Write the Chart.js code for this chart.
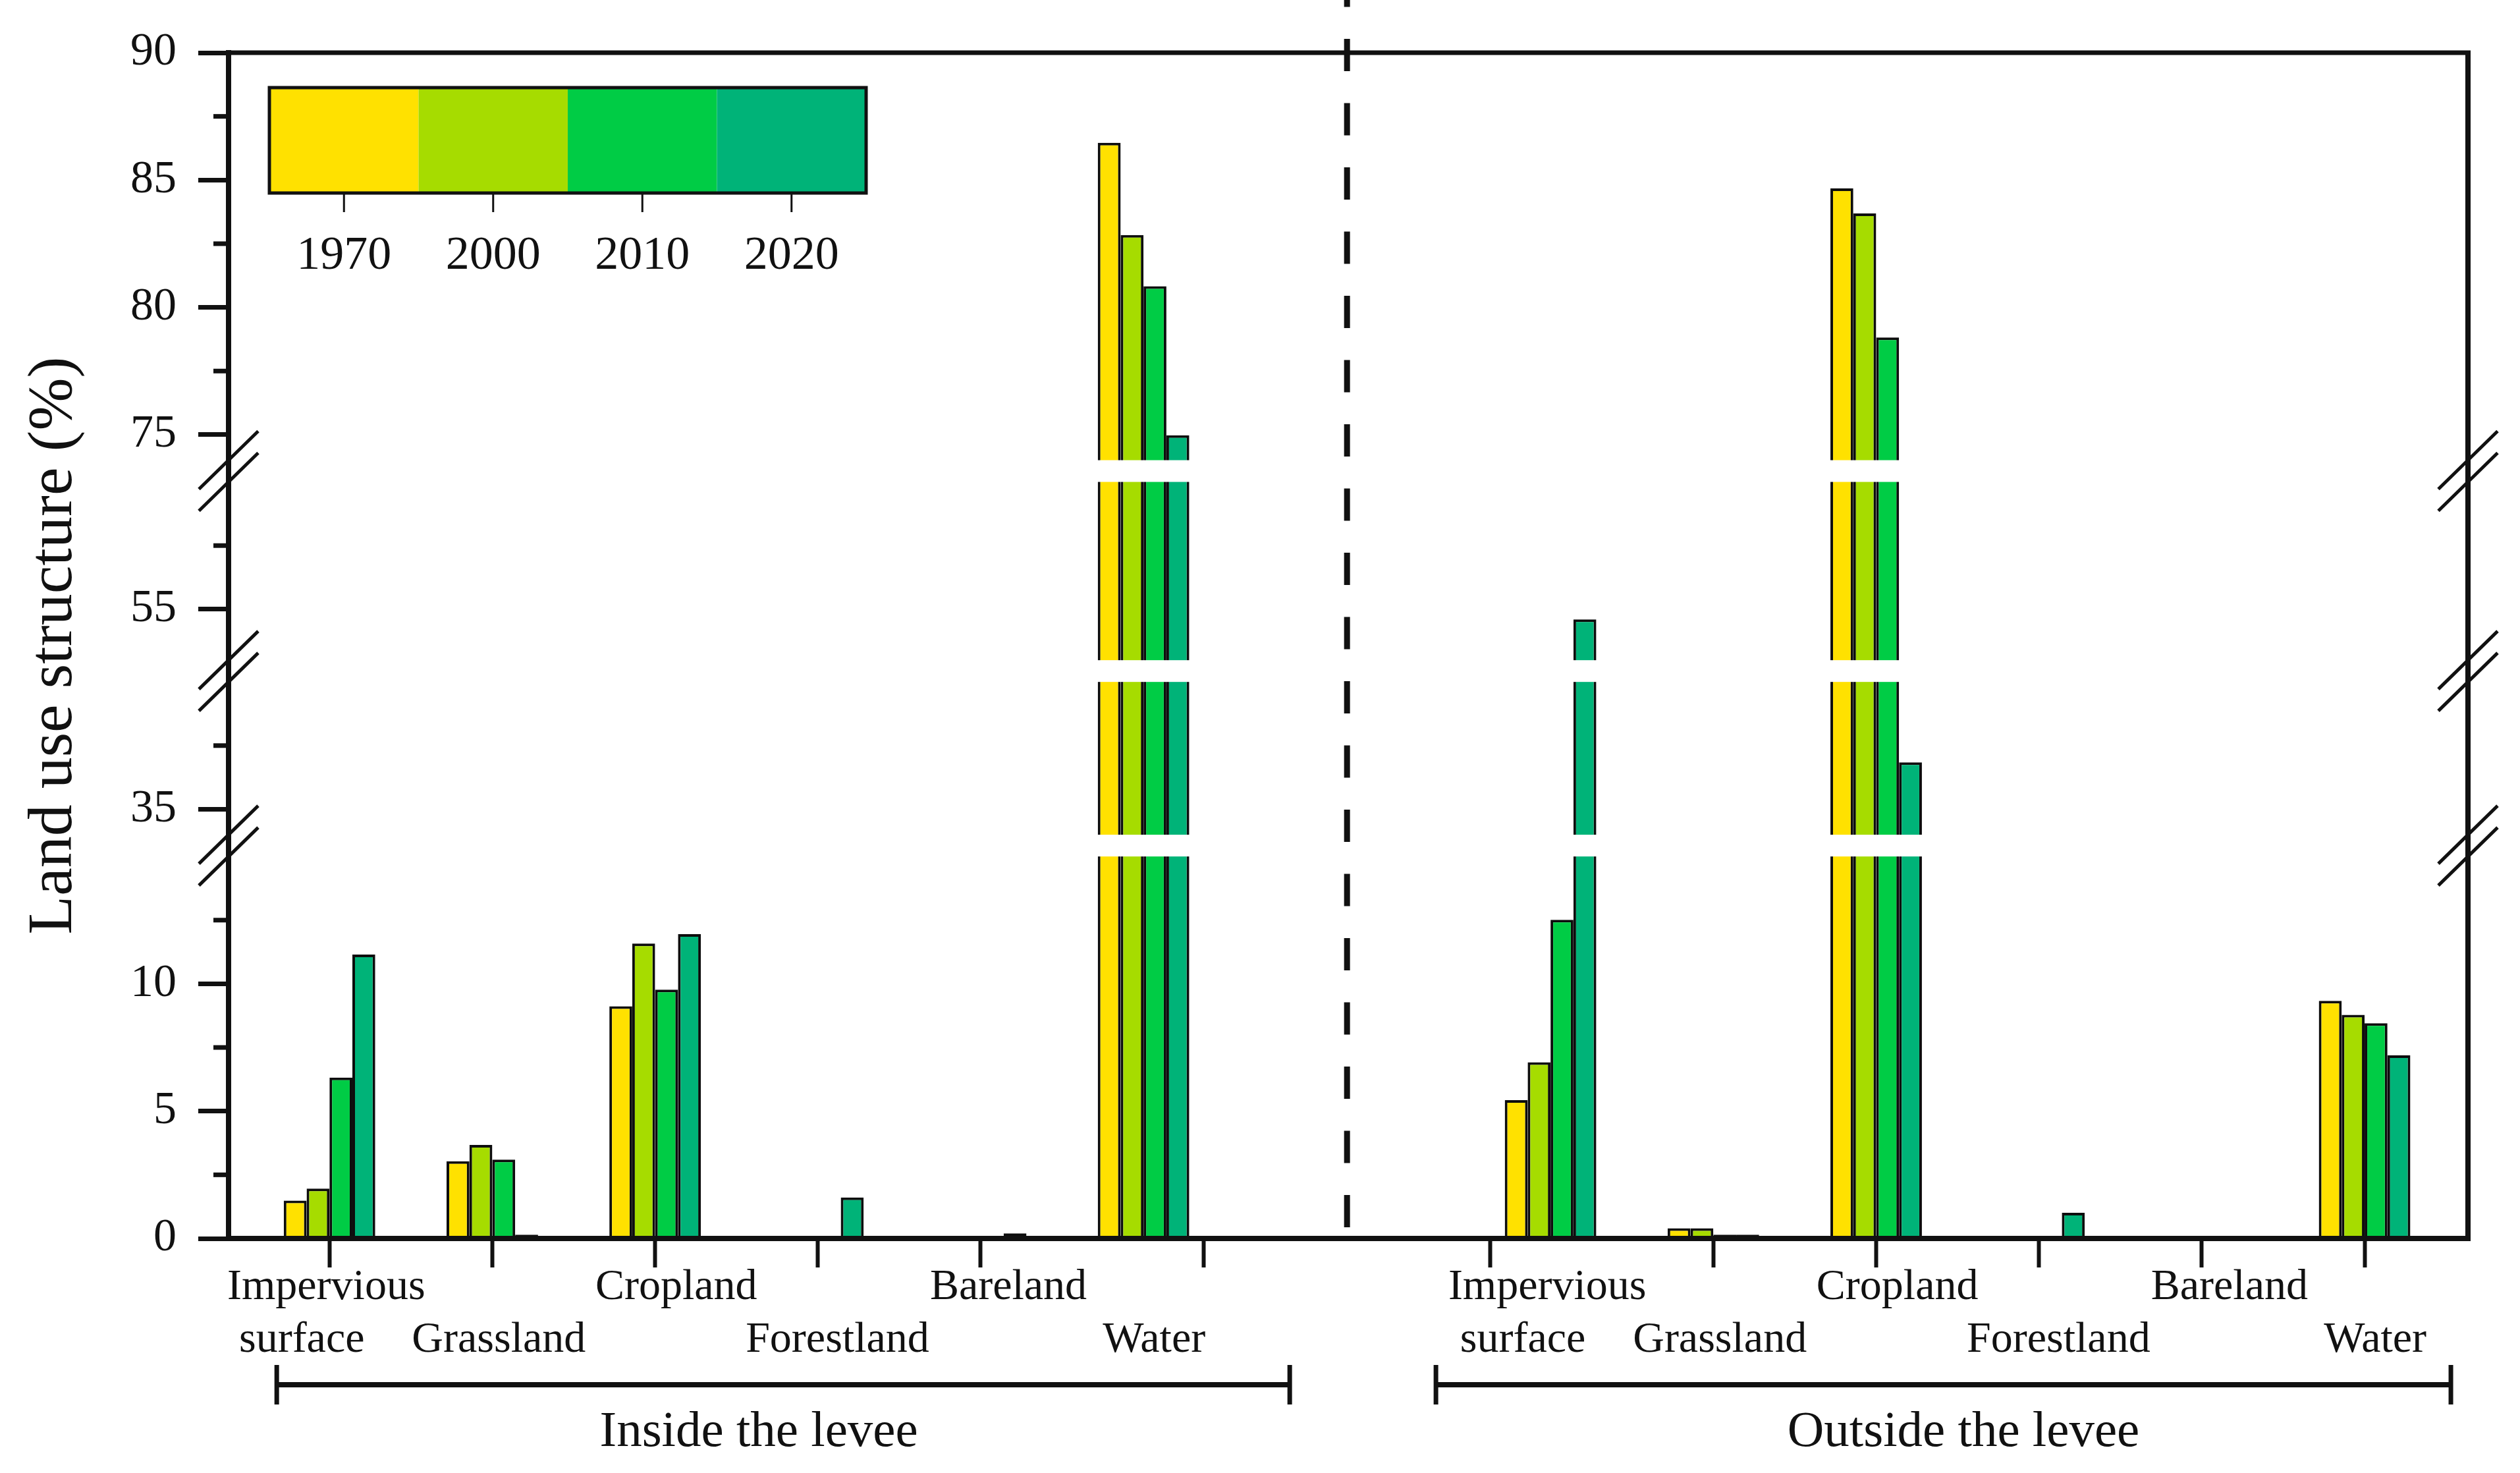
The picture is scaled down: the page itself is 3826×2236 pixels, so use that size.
<!DOCTYPE html>
<html>
<head>
<meta charset="utf-8">
<script src="https://cdn.jsdelivr.net/npm/chart.js@4.4.1/dist/chart.umd.min.js"></script>
<style>
  html, body { margin: 0; padding: 0; background: #fff; }
  #wrap { width: 3826px; height: 2236px; position: relative; }
</style>
</head>
<body>
<div id="wrap"><canvas id="c"></canvas></div>
<script>
/* 堤内外土地利用结构 — 断轴柱状图 */

// 数据
const years = ['1970', '2000', '2010', '2020'];
const landTypes = [['Impervious', 'surface'], ['Grassland'], ['Cropland'], ['Forestland'], ['Bareland'], ['Water']];
const sides = ['Inside the levee', 'Outside the levee'];

// 每行 12 个值：前 6 个堤内，后 6 个堤外（%）
const val1970 = [1.49, 3.03, 9.12, 0, 0, 86.46, 5.43, 0.40, 84.67, 0, 0, 9.33];
const val2000 = [1.96, 3.67, 11.58, 0, 0, 82.84, 6.92, 0.40, 83.69, 0.03, 0, 8.78];
const val2010 = [6.32, 3.10, 9.77, 0, 0.05, 80.83, 12.51, 0.15, 78.82, 0, 0, 8.45];
const val2020 = [11.15, 0.15, 11.95, 1.61, 0.20, 74.98, 54.6, 0.15, 36.84, 1.01, 0.07, 7.19];

const yTicks = [0, 5, 10, 35, 55, 75, 80, 85, 90];
const yMinorTicks = [2.5, 7.5, 12.5, 37.5, 57.5, 77.5, 82.5, 87.5];
const ySegments = [[0, 15], [34, 40], [53, 60], [74, 90]];

// 样式与布局
const colors = ['#FFE100', '#A6DC00', '#00CC45', '#00B378'];
const INK = '#111';
const FONT = "'Liberation Serif', 'Times New Roman', serif";
const GAP = 33;                 // 断轴间隙 px
const sideStart = [1, 8.5];     // 每侧第一组的 x 位置
const xMin = 0.38, xMax = 14.135;
const xTickPos = [1, 2, 3, 4, 5, 6.37, 8.13, 9.5, 10.5, 11.5, 12.5, 13.5];
const divider = 7.25;
const labelShift = [[-0.02, -0.17], [0.04], [0.13], [0.12], [0.17], [0.065]];
const labelRow = [0, 1, 0, 1, 0, 1];
const brackets = [[0.676, 6.898, 3.637], [7.796, 14.03, 11.036]];

Chart.defaults.font.family = FONT;
Chart.defaults.color = INK;

// 分段 y 轴
class BrokenScale extends Chart.LinearScale {
  _unit() {
    const units = ySegments.reduce((s, g) => s + g[1] - g[0], 0);
    return (this.bottom - this.top - GAP * (ySegments.length - 1)) / units;
  }
  getPixelForValue(value) {
    if (value === null || value === undefined || isNaN(value)) return NaN;
    const k = this._unit();
    let y = this.bottom;
    for (let i = 0; i < ySegments.length; i++) {
      const [a, b] = ySegments[i];
      if (value <= b || i === ySegments.length - 1) return y - (Math.max(value, a) - a) * k;
      y -= (b - a) * k + GAP;
    }
  }
  getValueForPixel(pixel) {
    const k = this._unit();
    let y = this.bottom;
    for (let i = 0; i < ySegments.length; i++) {
      const [a, b] = ySegments[i];
      const top = y - (b - a) * k;
      if (pixel >= top || i === ySegments.length - 1) return a + (y - pixel) / k;
      y = top - GAP;
    }
  }
}
BrokenScale.id = 'broken';
Chart.register(BrokenScale);

const groupX = (side, i) => sideStart[side] + i;
function toPoints(vals) {
  return vals.map((v, j) => ({ x: groupX(Math.floor(j / 6), j % 6), y: v }));
}
const series = [val1970, val2000, val2010, val2020];

function line(ctx, x1, y1, x2, y2) {
  ctx.beginPath();
  ctx.moveTo(x1, y1);
  ctx.lineTo(x2, y2);
  ctx.stroke();
}

const decor = {
  id: 'decor',
  afterDatasetsDraw(chart) {
    // 断轴白带
    const { ctx, chartArea: ca, scales: { y } } = chart;
    ctx.save();
    ctx.fillStyle = '#fff';
    for (let i = 0; i < ySegments.length - 1; i++) {
      const y0 = y.getPixelForValue(ySegments[i][1]);
      const y1 = y.getPixelForValue(ySegments[i + 1][0]);
      ctx.fillRect(ca.left + 6, y1, ca.width - 12, y0 - y1);
    }
    ctx.restore();
  },
  afterDraw(chart) {
    const { ctx, chartArea: ca, scales: { x, y } } = chart;
    ctx.save();
    ctx.strokeStyle = INK;
    ctx.lineCap = 'butt';

    // 上框线、右轴
    ctx.lineWidth = 7;
    line(ctx, ca.left, ca.top, ca.right + 4, ca.top);
    ctx.lineWidth = 8;
    line(ctx, ca.right, ca.top - 3, ca.right, ca.bottom + 4);

    // 次刻度
    ctx.lineWidth = 7;
    yMinorTicks.forEach(v => {
      const py = y.getPixelForValue(v);
      line(ctx, ca.left - 23, py, ca.left, py);
    });

    // 断轴符号
    ctx.lineWidth = 5;
    for (let i = 0; i < ySegments.length - 1; i++) {
      const edges = [y.getPixelForValue(ySegments[i + 1][0]), y.getPixelForValue(ySegments[i][1])];
      [ca.left, ca.right].forEach(ax => {
        edges.forEach(py => line(ctx, ax - 45, py + 44, ax + 45, py - 44));
      });
    }

    // 堤内外分隔虚线
    const dx = x.getPixelForValue(divider);
    ctx.lineWidth = 9;
    ctx.setLineDash([49, 48.5]);
    ctx.lineDashOffset = 38.5;
    line(ctx, dx, 0, dx, ca.bottom);
    ctx.setLineDash([]);

    // 图例（色带）
    const lx = ca.left + 62, ly = ca.top + 53, lw = 906, lh = 160;
    const bw = lw / years.length;
    years.forEach((yr, i) => {
      ctx.fillStyle = colors[i];
      ctx.fillRect(lx + i * bw, ly, bw, lh);
    });
    ctx.lineWidth = 5;
    ctx.strokeRect(lx, ly, lw, lh);
    ctx.lineWidth = 3;
    ctx.fillStyle = INK;
    ctx.font = '72px ' + FONT;
    ctx.textAlign = 'center';
    ctx.textBaseline = 'alphabetic';
    years.forEach((yr, i) => {
      const cx = lx + (i + 0.5) * bw;
      line(ctx, cx, ly + lh, cx, ly + lh + 29);
      ctx.fillText(yr, cx, ly + lh + 115);
    });

    // 类别标签
    ctx.font = '66px ' + FONT;
    sides.forEach((s, side) => {
      landTypes.forEach((lines, i) => {
        lines.forEach((txt, l) => {
          const px = x.getPixelForValue(groupX(side, i) + labelShift[i][l]);
          const row = labelRow[i] + l;
          ctx.fillText(txt, px, ca.bottom + (row === 0 ? 92 : 172));
        });
      });
    });

    // 分组括线与标题
    ctx.font = '77px ' + FONT;
    brackets.forEach((b, side) => {
      const x1 = x.getPixelForValue(b[0]), x2 = x.getPixelForValue(b[1]);
      const by = ca.bottom + 222;
      ctx.lineWidth = 8;
      line(ctx, x1, by, x2, by);
      ctx.lineWidth = 7;
      line(ctx, x1, by - 30, x1, by + 30);
      line(ctx, x2, by - 30, x2, by + 30);
      ctx.fillText(sides[side], x.getPixelForValue(b[2]), ca.bottom + 315);
    });
    ctx.restore();
  }
};

new Chart(document.getElementById('c'), {
  type: 'bar',
  data: {
    datasets: years.map((yr, i) => ({
      label: yr,
      data: toPoints(series[i]),
      backgroundColor: colors[i],
      borderColor: '#0d0d0d',
      borderWidth: 4,
      categoryPercentage: 0.562,
      barPercentage: 1
    }))
  },
  options: {
    responsive: true, maintainAspectRatio: false, animation: false, events: [],
    layout: { padding: { left: 0, right: 79, top: 80, bottom: 0 } },
    plugins: { legend: { display: false }, tooltip: { enabled: false } },
    scales: {
      x: {
        type: 'linear', min: xMin, max: xMax, offset: false,
        afterBuildTicks: s => { s.ticks = xTickPos.map(v => ({ value: v })); },
        afterFit: s => { s.height = 356; },
        ticks: { autoSkip: false, callback: () => '' },
        grid: { offset: false, drawOnChartArea: false, tickLength: 44, tickWidth: 6, tickColor: INK },
        border: { display: true, width: 8, color: INK, z: 1 }
      },
      y: {
        type: 'broken', min: 0, max: 90,
        afterBuildTicks: s => { s.ticks = yTicks.map(v => ({ value: v })); },
        afterFit: s => { s.width = 347; },
        ticks: { autoSkip: false, padding: 33, color: INK, font: { family: FONT, size: 70 } },
        grid: { drawOnChartArea: false, tickLength: 46, tickWidth: 7, tickColor: INK },
        border: { display: true, width: 8, color: INK, z: 1 },
        title: {
          display: true, text: 'Land use structure (%)', color: INK,
          font: { family: FONT, size: 96, weight: 'normal' }, padding: { top: 25, bottom: 0 }
        }
      }
    }
  },
  plugins: [decor]
});
</script>
</body>
</html>
